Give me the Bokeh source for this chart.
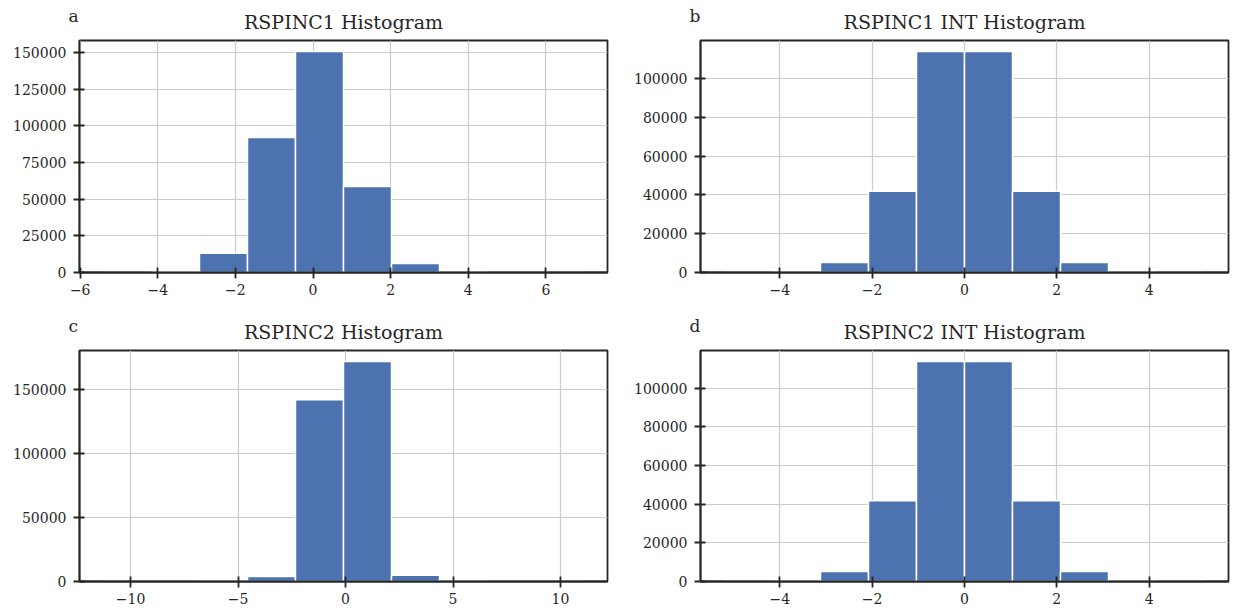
import numpy as np
from bokeh.plotting import figure
from bokeh.layouts import column, row
from bokeh.models import FixedTicker, CustomJSTickFormatter, Title, Range1d
from bokeh.embed import file_html
from bokeh.resources import INLINE

# ---------------- data ----------------
titles = ["RSPINC1 Histogram", "RSPINC1 INT Histogram",
          "RSPINC2 Histogram", "RSPINC2 INT Histogram"]
letters = ["a", "b", "c", "d"]

# histogram data range (min, max of the series) and counts in 10 bins
a_min, a_max = -5.40, 6.97
a_counts = [10, 300, 13200, 92100, 150800, 58700, 6200, 250, 20, 5]

b_min, b_max = -5.2, 5.2
b_counts = [5, 150, 5200, 41800, 113800, 113800, 41800, 5200, 150, 5]

c_min, c_max = -11.26, 11.07
c_counts = [5, 20, 200, 3900, 141900, 171800, 4900, 200, 20, 5]

d_min, d_max = -5.2, 5.2
d_counts = [5, 150, 5200, 41800, 113800, 113800, 41800, 5200, 150, 5]

a_xticks = [-6, -4, -2, 0, 2, 4, 6]
b_xticks = [-4, -2, 0, 2, 4]
c_xticks = [-10, -5, 0, 5, 10]
d_xticks = [-4, -2, 0, 2, 4]

a_yticks = [0, 25000, 50000, 75000, 100000, 125000, 150000]
b_yticks = [0, 20000, 40000, 60000, 80000, 100000]
c_yticks = [0, 50000, 100000, 150000]
d_yticks = [0, 20000, 40000, 60000, 80000, 100000]

# ---------------- style ----------------
FONT = "DejaVu Serif"
TXT = "#262626"
BAR = "#4c72b0"
GRID = "#cccccc"
TICK_FS = "14px"
TITLE_FS = "19px"
LETTER_FS = "17px"

fmt_code = "return tick < 0 ? '\u2212' + String(-tick) : String(tick);"


def make(title, letter, vmin, vmax, counts, xticks, yticks,
         fw, fh, bl, br, bt, bb):
    edges = np.linspace(vmin, vmax, len(counts) + 1)
    span = vmax - vmin
    p = figure(frame_width=fw, frame_height=fh,
               min_border_left=bl, min_border_right=br,
               min_border_top=bt, min_border_bottom=bb,
               x_range=Range1d(vmin - 0.05 * span, vmax + 0.05 * span),
               y_range=Range1d(0, max(counts) * 1.05),
               output_backend="svg", toolbar_location=None, tools="")
    p.quad(left=edges[:-1], right=edges[1:], top=counts, bottom=0,
           fill_color=BAR, line_color="white", line_width=1.5)

    # panel letter: the plot's own title (outermost slot), pulled down
    p.title.text = letter
    p.title.align = "left"
    p.title.offset = -11
    p.title.vertical_align = "bottom"
    p.title.standoff = -42
    p.title.text_font = FONT
    p.title.text_font_size = LETTER_FS
    p.title.text_font_style = "normal"
    p.title.text_color = TXT

    # main title (slot next to the frame)
    p.add_layout(Title(text=title, align="center", vertical_align="top",
                       standoff=12, text_font=FONT, text_font_size=TITLE_FS,
                       text_font_style="normal", text_color=TXT), "above")

    p.outline_line_color = TXT
    p.outline_line_width = 1.8
    p.background_fill_color = "white"
    p.border_fill_color = "white"

    for ax, ticks, so in ((p.xaxis[0], xticks, 5), (p.yaxis[0], yticks, 7)):
        ax.ticker = FixedTicker(ticks=ticks)
        ax.formatter = CustomJSTickFormatter(code=fmt_code)
        ax.axis_line_color = TXT
        ax.axis_line_width = 1.8
        ax.major_tick_line_color = TXT
        ax.major_tick_line_width = 1.8
        ax.major_tick_in = 5
        ax.major_tick_out = 6
        ax.minor_tick_line_color = None
        ax.major_label_text_font = FONT
        ax.major_label_text_font_size = TICK_FS
        ax.major_label_text_color = TXT
        ax.major_label_standoff = so

    p.xgrid[0].ticker = FixedTicker(ticks=xticks)
    p.ygrid[0].ticker = FixedTicker(ticks=yticks)
    for g in (p.xgrid[0], p.ygrid[0]):
        g.grid_line_color = GRID
        g.grid_line_width = 1.2
    return p


pa = make(titles[0], letters[0], a_min, a_max, a_counts, a_xticks, a_yticks,
          528, 232, 79, 17, 40, 38)
pb = make(titles[1], letters[1], b_min, b_max, b_counts, b_xticks, b_yticks,
          528, 232, 76, 3, 40, 38)
pc = make(titles[2], letters[2], c_min, c_max, c_counts, c_xticks, c_yticks,
          528, 231, 79, 17, 40, 20)
pd = make(titles[3], letters[3], d_min, d_max, d_counts, d_xticks, d_yticks,
          528, 231, 76, 3, 40, 20)

layout = column(row(pa, pb), row(pc, pd))
open("out.html", "w").write(file_html(layout, INLINE))
